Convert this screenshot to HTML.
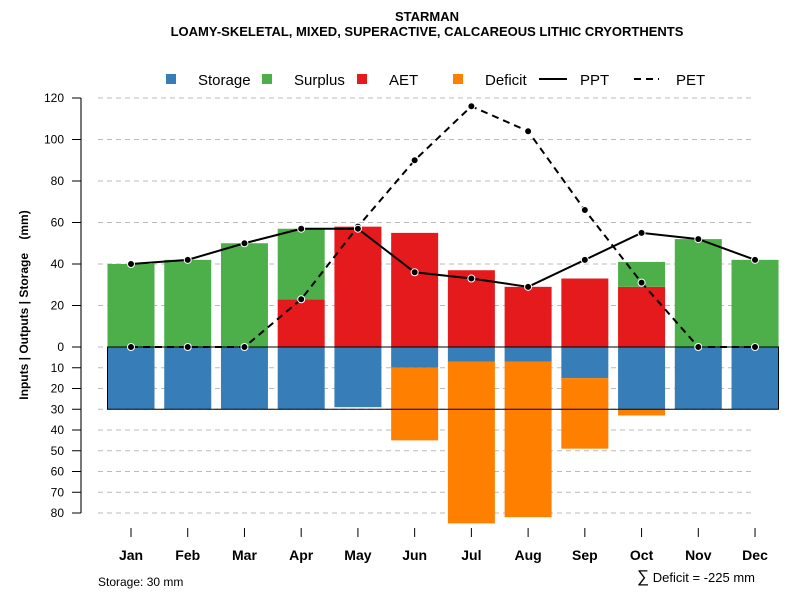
<!DOCTYPE html>
<html><head><meta charset="utf-8"><style>
body{margin:0;background:#fff}
svg{font-family:"Liberation Sans",sans-serif}
</style></head><body>
<svg id="c" width="800" height="600" xmlns="http://www.w3.org/2000/svg">
<text x="427" y="21" text-anchor="middle" font-size="13" font-weight="bold">STARMAN</text>
<text x="427" y="36" text-anchor="middle" font-size="13" font-weight="bold">LOAMY-SKELETAL, MIXED, SUPERACTIVE, CALCAREOUS LITHIC CRYORTHENTS</text>
<g font-size="15">
<rect x="166" y="74" width="10" height="10" fill="#377eb8"/><text x="198" y="85">Storage</text>
<rect x="262" y="74" width="10" height="10" fill="#4daf4a"/><text x="294" y="85">Surplus</text>
<rect x="357" y="74" width="10" height="10" fill="#e41a1c"/><text x="389" y="85">AET</text>
<rect x="453" y="74" width="10" height="10" fill="#ff7f00"/><text x="485" y="85">Deficit</text>
<line x1="539" y1="79" x2="567" y2="79" stroke="#000" stroke-width="2"/><text x="580" y="85">PPT</text>
<line x1="634" y1="79" x2="659" y2="79" stroke="#000" stroke-width="2" stroke-dasharray="7,5"/><text x="676" y="85">PET</text>
</g>
<text transform="translate(28,305) rotate(-90)" text-anchor="middle" font-size="12" font-weight="bold" xml:space="preserve">Inputs | Outputs | Storage    (mm)</text>
<text x="98" y="586" font-size="12">Storage: 30 mm</text>
<text x="755" y="582" text-anchor="end" font-size="13"><tspan font-size="17">∑</tspan> Deficit = -225 mm</text>
<g id="grid"></g><g id="bars"></g><g id="lines"></g><g id="axes"></g>
</svg>
<script>
const months=["Jan","Feb","Mar","Apr","May","Jun","Jul","Aug","Sep","Oct","Nov","Dec"];
const storage=[30,30,30,30,29,10,7,7,15,30,30,30];
const deficit=[0,0,0,0,0,35,78,75,34,3,0,0];
const aet=[0,0,0,23,58,55,37,29,33,29,0,0];
const surplus=[40,42,50,34,0,0,0,0,0,12,52,42];
const ppt=[40,42,50,57,57,36,33,29,42,55,52,42];
const pet=[0,0,0,23,58,90,116,104,66,31,0,0];
const posTicks=[0,20,40,60,80,100,120];
const negTicks=[10,20,30,40,50,60,70,80];
const awc=30;
const NS="http://www.w3.org/2000/svg";
const y=v=>347-v*2.075;
const x=i=>131+i*56.73;
const bw=47;
function mk(tag,attrs,parent){const e=document.createElementNS(NS,tag);for(const k in attrs)e.setAttribute(k,attrs[k]);document.getElementById(parent).appendChild(e);return e;}
[...posTicks,...negTicks.map(v=>-v)].forEach(v=>{
 const g=mk('line',{x1:98,x2:755,y1:y(v),y2:y(v),stroke:'#bbb','stroke-dasharray':'5,4','stroke-width':1},'grid');
 
 
});
months.forEach((m,i)=>{
 const l=x(i)-bw/2;
 let r=mk('rect',{x:l,y:y(0),width:bw,height:y(-storage[i])-y(0),fill:'#377eb8'},'bars');
 
 
 if(deficit[i]>0){r=mk('rect',{x:l,y:y(-storage[i]),width:bw,height:y(-storage[i]-deficit[i])-y(-storage[i]),fill:'#ff7f00'},'bars');
 
 }
 if(aet[i]>0){r=mk('rect',{x:l,y:y(aet[i]),width:bw,height:y(0)-y(aet[i]),fill:'#e41a1c'},'bars');
 
 }
 if(surplus[i]>0){r=mk('rect',{x:l,y:y(aet[i]+surplus[i]),width:bw,height:y(aet[i])-y(aet[i]+surplus[i]),fill:'#4daf4a'},'bars');
 
 }
});
let box=mk('rect',{x:x(0)-bw/2,y:y(0),width:x(11)+bw/2-(x(0)-bw/2),height:y(-awc)-y(0),fill:'none',stroke:'#000','stroke-width':1},'bars');


function series(arr,dash,name){
 const p=mk('polyline',{points:arr.map((v,i)=>x(i)+','+y(v)).join(' '),fill:'none',stroke:'#000','stroke-width':2,'stroke-dasharray':dash},'lines');
 
 
 arr.forEach((v,i)=>{const c=mk('circle',{cx:x(i),cy:y(v),r:3.5,fill:'#000',stroke:'#fff','stroke-width':1},'lines');
 
 });
}
series(pet,'7,5','pet');
series(ppt,'none','ppt');
let ax=mk('line',{x1:81,x2:81,y1:y(120),y2:y(-80),stroke:'#777','stroke-width':2},'axes');


[...posTicks,...negTicks.map(v=>-v)].forEach(v=>{
 const t=mk('line',{x1:72,x2:81,y1:y(v),y2:y(v),stroke:'#000','stroke-width':1},'axes');
 
 
 const tx=mk('text',{x:64,y:y(v)+4,'text-anchor':'end','font-size':12},'axes');
 tx.textContent=Math.abs(v);
 
 
});
months.forEach((m,i)=>{
 const t=mk('line',{x1:x(i),x2:x(i),y1:528,y2:537,stroke:'#000','stroke-width':1},'axes');
 
 
 const tx=mk('text',{x:x(i),y:560,'text-anchor':'middle','font-size':14,'font-weight':'bold'},'axes');
 tx.textContent=m;
 
 
});
</script>
</body></html>
